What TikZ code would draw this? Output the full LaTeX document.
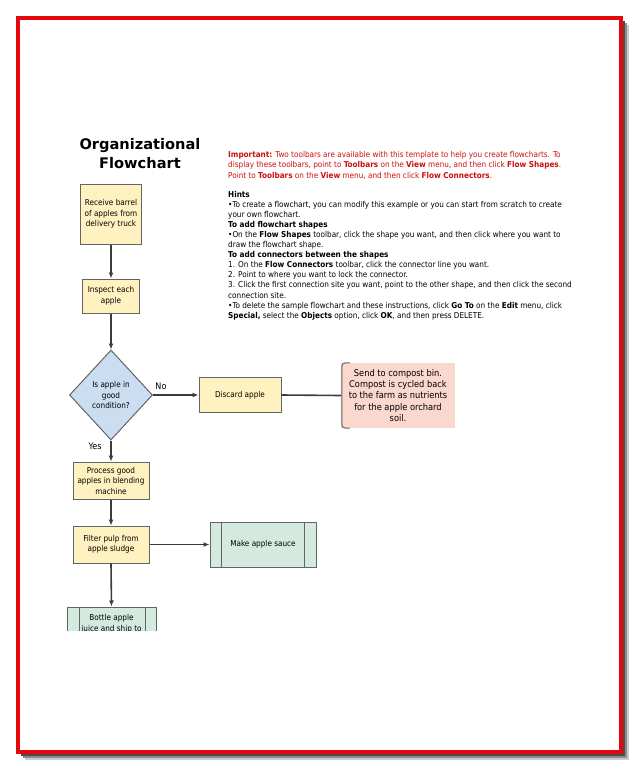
\documentclass[tikz,border=0pt]{standalone}
\usepackage{fontspec}
\setmainfont{DejaVu Sans Condensed}
\newfontfamily\titlefont{DejaVu Sans}
\usetikzlibrary{shapes.geometric,arrows.meta}
\definecolor{pagered}{RGB}{228,8,10}
\definecolor{boxyellow}{RGB}{255,241,192}
\definecolor{boxblue}{RGB}{203,222,241}
\definecolor{boxgreen}{RGB}{212,234,222}
\definecolor{boxpink}{RGB}{250,216,206}
\definecolor{edgegray}{RGB}{100,100,100}
\definecolor{linegray}{RGB}{60,60,60}
\definecolor{hintred}{RGB}{204,16,16}
\tikzset{
  procbox/.style={draw=edgegray, line width=1pt, fill=boxyellow, inner sep=0pt, align=center, font=\fontsize{8.1}{10.5}\selectfont},
  predbox/.style={draw=edgegray, line width=1pt, fill=boxgreen, inner sep=0pt, align=center, font=\fontsize{8.1}{10.5}\selectfont},
  decbox/.style={diamond, draw=edgegray, line width=1pt, fill=boxblue, inner sep=0pt, align=center, font=\fontsize{8.1}{10.5}\selectfont},
  flow/.style={draw=linegray, line width=1.6pt, -{Latex[length=6pt,width=5pt]}},
  plainline/.style={draw=linegray, line width=1.6pt},
  hint/.style={anchor=base west, inner sep=0pt, font=\fontsize{8.1}{10}\selectfont},
  lbl/.style={inner sep=0pt, font=\fontsize{9}{10}\selectfont},
}
\begin{document}
\begin{tikzpicture}[x=1pt,y=-1pt]
\useasboundingbox (0,0) rectangle (638,768);
% page shadow and border
\fill[black!20] (25,25) rectangle (629,760);
\fill[black!45] (23,23) rectangle (627,758);
\fill[black!70] (21,21) rectangle (625,756);
\fill[white] (18,18) rectangle (621,752);
\draw[pagered, line width=4pt] (18,18) rectangle (621,752);

% title
\node[inner sep=0pt, align=center, font=\titlefont\bfseries\fontsize{14.6}{19}\selectfont] (title) at (140,154) {Organizational\\Flowchart};

% hints text block
\node[hint, text=hintred] (h1) at (228,157) {\textbf{Important:} Two toolbars are available with this template to help you create flowcharts. To};
\node[hint, text=hintred] (h2) at (228,167.5) {display these toolbars, point to \textbf{Toolbars} on the \textbf{View} menu, and then click \textbf{Flow Shapes}.};
\node[hint, text=hintred] (h3) at (228,178) {Point to \textbf{Toolbars} on the \textbf{View} menu, and then click \textbf{Flow Connectors}.};
\node[hint] (h4) at (228,197) {\textbf{Hints}};
\node[hint] (h5) at (228,207.1) {•To create a flowchart, you can modify this example or you can start from scratch to create};
\node[hint] (h6) at (228,217.2) {your own flowchart.};
\node[hint] (h7) at (228,227.3) {\textbf{To add flowchart shapes}};
\node[hint] (h8) at (228,237.4) {•On the \textbf{Flow Shapes} toolbar, click the shape you want, and then click where you want to};
\node[hint] (h9) at (228,247.5) {draw the flowchart shape.};
\node[hint] (h10) at (228,257.6) {\textbf{To add connectors between the shapes}};
\node[hint] (h11) at (228,267.7) {1. On the \textbf{Flow Connectors} toolbar, click the connector line you want.};
\node[hint] (h12) at (228,277.8) {2. Point to where you want to lock the connector.};
\node[hint] (h13) at (228,287.9) {3. Click the first connection site you want, point to the other shape, and then click the second};
\node[hint] (h14) at (228,298) {connection site.};
\node[hint] (h15) at (228,308.1) {•To delete the sample flowchart and these instructions, click \textbf{Go To} on the \textbf{Edit} menu, click};
\node[hint] (h16) at (228,318.2) {\textbf{Special,} select the \textbf{Objects} option, click \textbf{OK}, and then press DELETE.};

% flowchart nodes
\node[procbox, minimum width=61pt, minimum height=60pt] (receive) at (111,214) {Receive barrel\\of apples from\\delivery truck};
\node[procbox, minimum width=57pt, minimum height=34pt] (inspect) at (111,296) {Inspect each\\apple};
\node[decbox, minimum width=83pt, minimum height=90pt] (check) at (111,395) {Is apple in\\good\\condition?};
\node[procbox, minimum width=82pt, minimum height=35pt] (discard) at (240,395) {Discard apple};
\node[fill=boxpink, minimum width=114pt, minimum height=65pt, inner sep=0pt, align=center, font=\fontsize{9.2}{11.3}\selectfont] (compost) at (398,395.5) {Send to compost bin.\\Compost is cycled back\\to the farm as nutrients\\for the apple orchard\\soil.};
\draw[edgegray, line width=1pt] ([xshift=9pt]compost.north west) .. controls ([xshift=1pt]compost.north west) .. ([xshift=1pt,yshift=-8pt]compost.north west) -- ([xshift=1pt,yshift=8pt]compost.south west) .. controls ([xshift=1pt]compost.south west) .. ([xshift=9pt]compost.south west);
\node[procbox, minimum width=76pt, minimum height=37pt] (blend) at (111,480.5) {Process good\\apples in blending\\machine};
\node[procbox, minimum width=76pt, minimum height=37pt] (filter) at (111,544.5) {Filter pulp from\\apple sludge};
\node[predbox, minimum width=106pt, minimum height=45pt] (sauce) at (263,544.5) {Make apple sauce};
\draw[edgegray, line width=1pt] ([xshift=12pt]sauce.north west) -- ([xshift=12pt]sauce.south west);
\draw[edgegray, line width=1pt] ([xshift=-12pt]sauce.north east) -- ([xshift=-12pt]sauce.south east);
\begin{scope}
\clip (40,560) rectangle (200,630);
\node[predbox, minimum width=89pt, minimum height=50pt] (bottle) at (111.5,632) {};
\node[inner sep=0pt, align=center, anchor=north, font=\fontsize{8.1}{10.5}\selectfont] (bottletext) at ([yshift=-8pt]bottle.north) {Bottle apple\\juice and ship to};
\draw[edgegray, line width=1pt] ([xshift=13pt]bottle.north west) -- ([xshift=13pt]bottle.south west);
\draw[edgegray, line width=1pt] ([xshift=-11pt]bottle.north east) -- ([xshift=-11pt]bottle.south east);
\end{scope}

% connectors
\draw[flow] (receive) -- (inspect);
\draw[flow] (inspect) -- (check);
\draw[flow] (check.east) -- (discard.west);
\draw[flow] (check.south) -- (blend.north);
\draw[flow] (blend) -- (filter);
\draw[flow] (filter.east) -- (sauce.west);
\draw[flow] (filter.south) -- (bottle.north);
\draw[plainline] (discard.east) -- (compost.west);

% labels
\node[lbl] (nolbl) at (161,386) {No};
\node[lbl] (yeslbl) at (95,446) {Yes};
\end{tikzpicture}
\end{document}
